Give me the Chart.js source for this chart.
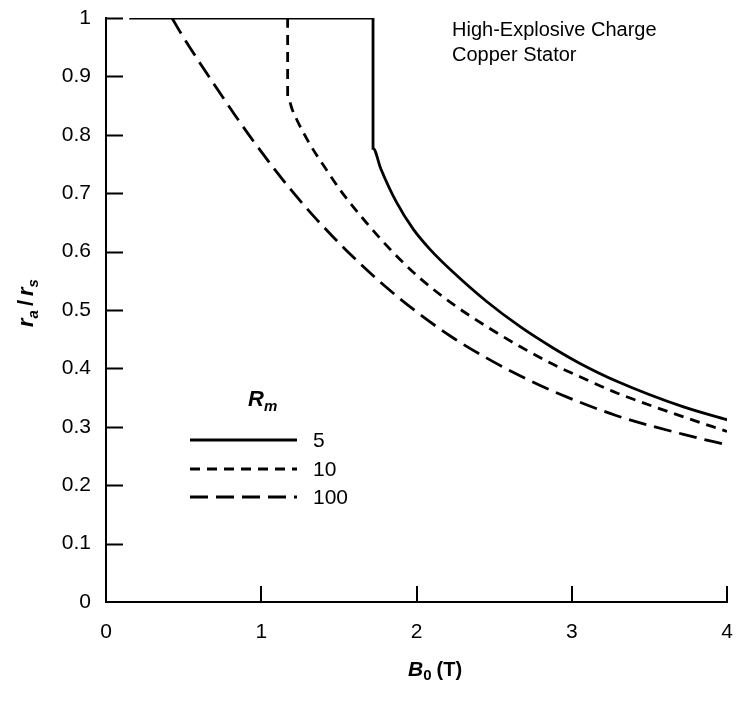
<!DOCTYPE html>
<html>
<head>
<meta charset="utf-8">
<script src="https://cdn.jsdelivr.net/npm/chart.js@4.4.1/dist/chart.umd.min.js"></script>
<style>
  html,body{margin:0;padding:0;background:#fff;}
  #wrap{width:736px;height:701px;}
</style>
</head>
<body>
<div id="wrap"><canvas id="chart" width="736" height="701"></canvas></div>
<script>
const FONT = "'Liberation Sans', Arial, sans-serif";

// values: B0 (T) against ra/rs
const rm5X   = [0.15, 1.72, 1.72, 1.77, 1.87, 1.98, 2.09, 2.235, 2.45, 2.67, 2.88, 3.05, 3.29, 3.72, 4.0];
const rm5Y   = [1.0, 1.0, 0.777, 0.742, 0.685, 0.638, 0.603, 0.565, 0.515, 0.471, 0.435, 0.409, 0.378, 0.334, 0.312];
const rm10X  = [1.17, 1.17, 1.2, 1.3, 1.42, 1.51, 1.66, 1.83, 2.02, 2.235, 2.45, 2.67, 2.88, 3.05, 3.29, 3.72, 4.0];
const rm10Y  = [1.0, 0.865, 0.843, 0.79, 0.74, 0.705, 0.655, 0.604, 0.555, 0.51, 0.472, 0.437, 0.407, 0.386, 0.358, 0.317, 0.292];
const rm100X = [0.425, 0.48, 0.6, 0.72, 0.83, 0.95, 1.08, 1.2, 1.33, 1.46, 1.56, 1.77, 1.99, 2.22, 2.45, 2.67, 2.87, 3.29, 3.72, 4.0];
const rm100Y = [1.0, 0.975, 0.925, 0.877, 0.834, 0.789, 0.743, 0.703, 0.663, 0.626, 0.599, 0.547, 0.499, 0.455, 0.418, 0.387, 0.362, 0.319, 0.287, 0.269];

const seriesLabels = ['5', '10', '100'];
const seriesDash = [[], [10, 7], [18, 8]];
const xTickLabels = ['0', '1', '2', '3', '4'];
const yTickLabels = ['0', '0.1', '0.2', '0.3', '0.4', '0.5', '0.6', '0.7', '0.8', '0.9', '1'];
const noteLines = ['High-Explosive Charge', 'Copper Stator'];

function pts(xs, ys){ return xs.map((x,i)=>({x:x, y:ys[i]})); }

// inward tick marks, axis titles, note and the Rm legend
const extras = {
  id:'extras',
  afterDraw(chart){
    const {ctx, chartArea:a, scales:{x, y}} = chart;
    ctx.save();
    ctx.strokeStyle = '#000';
    ctx.lineWidth = 2;
    ctx.beginPath();
    for(let v=1; v<=10; v++){
      const py = Math.round(y.getPixelForValue(v/10)) + 0.5;
      ctx.moveTo(a.left, py); ctx.lineTo(a.left + 17, py);
    }
    for(let v=1; v<=4; v++){
      const px = Math.round(x.getPixelForValue(v));
      ctx.moveTo(px, a.bottom); ctx.lineTo(px, a.bottom - 16);
    }
    ctx.stroke();

    ctx.fillStyle = '#000';
    ctx.textBaseline = 'alphabetic';
    ctx.textAlign = 'left';

    // note, top right
    ctx.font = '20px ' + FONT;
    noteLines.forEach((t,i)=> ctx.fillText(t, 452, 36 + i*25));

    // x title: B0 (T)
    let tx = 408, ty = 676;
    ctx.font = 'italic bold 21px ' + FONT;
    ctx.fillText('B', tx, ty); tx += ctx.measureText('B').width;
    ctx.font = 'bold 15px ' + FONT;
    ctx.fillText('0', tx, ty + 4); tx += ctx.measureText('0').width + 5;
    ctx.font = 'bold 20px ' + FONT;
    ctx.fillText('(T)', tx, ty);

    // y title: ra / rs
    ctx.save();
    ctx.translate(33, 327);
    ctx.rotate(-Math.PI/2);
    let sx = 0;
    ctx.font = 'italic bold 22px ' + FONT;
    ctx.fillText('r', sx, 0); sx += ctx.measureText('r').width;
    ctx.font = 'italic bold 15px ' + FONT;
    ctx.fillText('a', sx, 5); sx += ctx.measureText('a').width + 4;
    ctx.font = 'bold 22px ' + FONT;
    ctx.fillText('/', sx, 0); sx += ctx.measureText('/').width + 4;
    ctx.font = 'italic bold 22px ' + FONT;
    ctx.fillText('r', sx, 0); sx += ctx.measureText('r').width;
    ctx.font = 'italic bold 15px ' + FONT;
    ctx.fillText('s', sx, 5);
    ctx.restore();

    // legend
    ctx.font = 'italic bold 22px ' + FONT;
    ctx.fillText('R', 248, 406);
    const rw = ctx.measureText('R').width;
    ctx.font = 'italic bold 15px ' + FONT;
    ctx.fillText('m', 248 + rw, 411);
    const rowsY = [440, 469, 497];
    chart.data.datasets.forEach((ds,i)=>{
      ctx.save();
      ctx.lineWidth = ds.borderWidth;
      ctx.setLineDash(ds.borderDash || []);
      ctx.beginPath();
      ctx.moveTo(190, rowsY[i]); ctx.lineTo(297, rowsY[i]);
      ctx.stroke();
      ctx.restore();
      ctx.font = '21px ' + FONT;
      ctx.textBaseline = 'middle';
      ctx.fillText(ds.label, 313, rowsY[i] + 1);
    });
    ctx.restore();
  }
};

new Chart(document.getElementById('chart'), {
  type:'line',
  data:{
    datasets:[
      { label:seriesLabels[0], data:pts(rm5X, rm5Y), borderDash:seriesDash[0] },
      { label:seriesLabels[1], data:pts(rm10X, rm10Y), borderDash:seriesDash[1] },
      { label:seriesLabels[2], data:pts(rm100X, rm100Y), borderDash:seriesDash[2] }
    ].map(d=>({ ...d, borderColor:'#000', borderWidth:2.8, pointRadius:0,
                cubicInterpolationMode:'monotone', fill:false }))
  },
  options:{
    responsive:false, animation:false,
    layout:{ padding:{ top:18, right:9, left:0, bottom:0 } },
    plugins:{ legend:{display:false}, tooltip:{enabled:false} },
    scales:{
      x:{ type:'linear', min:0, max:4,
          grid:{ display:false, drawTicks:false },
          border:{ display:true, color:'#000', width:2 },
          ticks:{ stepSize:1, padding:18, color:'#000', font:{ family:FONT, size:21 },
                  callback:(v)=> xTickLabels[v] },
          afterFit:(s)=>{ s.height = 99; s.paddingLeft = 0; s.paddingRight = 0; } },
      y:{ type:'linear', min:0, max:1,
          grid:{ display:false, drawTicks:false },
          border:{ display:true, color:'#000', width:2 },
          ticks:{ stepSize:0.1, padding:15, color:'#000', font:{ family:FONT, size:21 },
                  callback:(v)=> yTickLabels[Math.round(v*10)] },
          afterFit:(s)=>{ s.width = 106; s.paddingTop = 0; s.paddingBottom = 0; } }
    }
  },
  plugins:[extras]
});
</script>
</body>
</html>
